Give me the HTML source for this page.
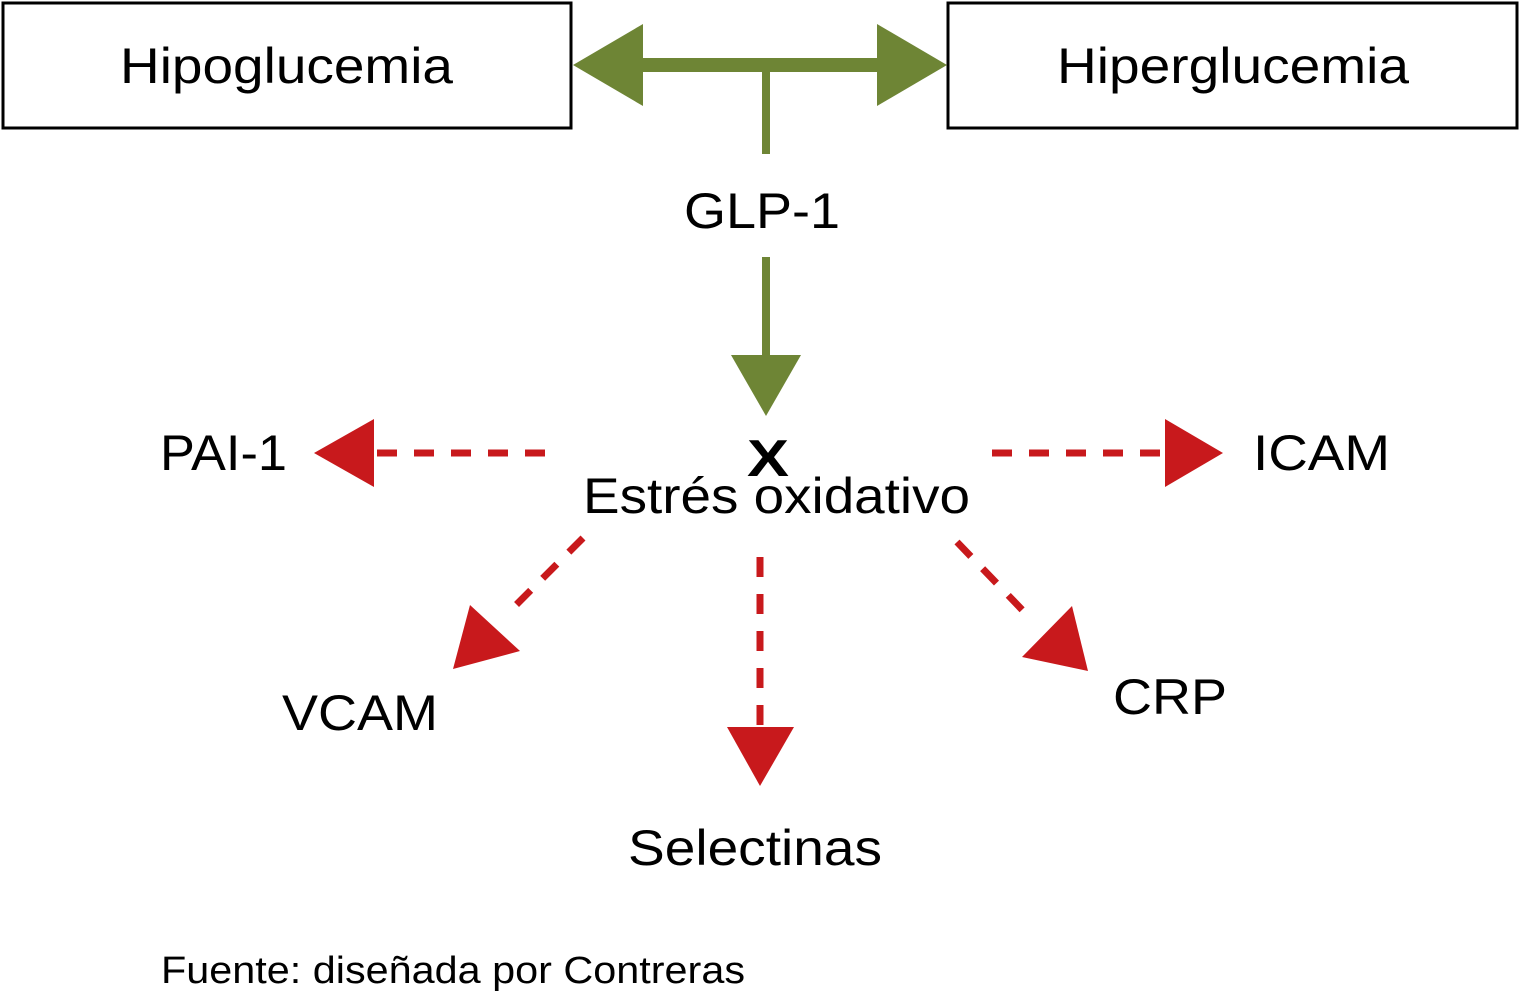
<!DOCTYPE html>
<html><head><meta charset="utf-8"><style>
html,body{margin:0;padding:0;background:#fff;width:1520px;height:993px;overflow:hidden}
svg{display:block}
text{font-family:"Liberation Sans",Arial,sans-serif;fill:#000}
</style></head><body>
<svg width="1520" height="993" viewBox="0 0 1520 993" xmlns="http://www.w3.org/2000/svg">
<rect x="3" y="3" width="568" height="125" fill="none" stroke="#000" stroke-width="3"/>
<rect x="948" y="3" width="569" height="125" fill="none" stroke="#000" stroke-width="3"/>
<text x="120" y="83" font-size="50" textLength="333" lengthAdjust="spacingAndGlyphs">Hipoglucemia</text>
<text x="1057" y="83" font-size="50" textLength="352" lengthAdjust="spacingAndGlyphs">Hiperglucemia</text>
<!-- green -->
<g fill="#6e8535">
<rect x="640" y="58" width="240" height="14"/>
<polygon points="573,65 643,24 643,106"/>
<polygon points="947,65 877,24 877,106"/>
<rect x="762" y="70" width="8" height="84"/>
<rect x="762" y="257" width="8" height="100"/>
<polygon points="731,355 801,355 766,416"/>
</g>
<text x="684" y="228" font-size="50" textLength="156" lengthAdjust="spacingAndGlyphs">GLP-1</text>
<text x="747" y="476" font-size="52" font-weight="bold" textLength="42" lengthAdjust="spacingAndGlyphs">X</text>
<text x="583" y="513" font-size="50" textLength="387" lengthAdjust="spacingAndGlyphs">Estrés oxidativo</text>
<!-- red -->
<g stroke="#c8191c" stroke-width="7" fill="none" stroke-dasharray="20 17">
<line x1="545" y1="453" x2="374" y2="453"/>
<line x1="992" y1="453" x2="1166" y2="453"/>
<line x1="583" y1="538" x2="505" y2="616"/>
<line x1="760" y1="557" x2="760" y2="728"/>
<line x1="957" y1="542" x2="1030" y2="618"/>
</g>
<g fill="#c8191c">
<polygon points="314,453 374,419 374,487"/>
<polygon points="1223,453 1165,419 1165,487"/>
<polygon points="453,669 470,605 520,651"/>
<polygon points="727,727 794,727 760,786"/>
<polygon points="1088,671 1022,657 1072,606"/>
</g>
<text x="160" y="470" font-size="50" textLength="127" lengthAdjust="spacingAndGlyphs">PAI-1</text>
<text x="1253" y="470" font-size="50" textLength="137" lengthAdjust="spacingAndGlyphs">ICAM</text>
<text x="282" y="730" font-size="50" textLength="156" lengthAdjust="spacingAndGlyphs">VCAM</text>
<text x="628" y="865" font-size="50" textLength="254" lengthAdjust="spacingAndGlyphs">Selectinas</text>
<text x="1113" y="714" font-size="50" textLength="114" lengthAdjust="spacingAndGlyphs">CRP</text>
<text x="161" y="983" font-size="38" textLength="584" lengthAdjust="spacingAndGlyphs">Fuente: diseñada por Contreras</text>
</svg>
</body></html>
